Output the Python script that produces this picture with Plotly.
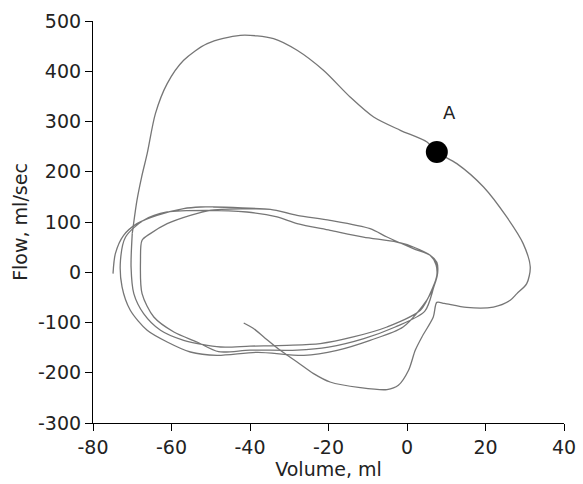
import plotly.graph_objects as go

# Tidal loops (one continuous recorded trace): Volume ml, Flow ml/sec
loop_volume = [
    -74.9, -74.3, -72.2, -68.8, -63.7, -56.9, -52.6, -49.3, -42.0, -34.8, -28.0, -19.6, -9.4, -5.1, 1.6, 5.9, 7.6, 7.8, 7.0, 5.1,
    -1.0, -9.4, -17.8, -26.3, -38.1, -48.4, -55.2, -61.1, -66.2, -70.5, -72.6, -73.0, -71.7, -67.1, -61.1,
    -50.9, -40.8, -33.1, -28.0, -19.6, -11.1, -2.6, 1.6, 5.9, 7.4, 7.6, 6.8, 4.5,
    -3.0, -11.0, -20.0, -28.0, -40.0, -48.0, -53.5, -59.4, -64.5, -67.5, -67.9, -67.5, -65.4, -61.1, -55.2, -50.1,
    -42.0, -34.8, -28.0, -19.6, -9.4, -5.1, 1.6, 5.9, 7.5, 7.6, 6.7, 3.4,
    -5.1, -13.7, -22.1, -30.6, -40.0, -47.5, -56.9, -62.8, -67.1, -69.6, -70.3, -70.0,
]
loop_flow = [
    -2.7, 37.1, 73.5, 96.8, 113.3, 126.7, 129.9, 129.9, 128.0, 125.3, 113.3, 103.4, 86.9, 70.1, 47.1, 33.7, 19.8, -2.0, -25.0, -55.0,
    -109.0, -135.4, -155.3, -165.3, -159.3, -165.3, -158.7, -138.8, -115.5, -75.7, -29.3, 23.8, 70.1, 103.4, 119.9,
    123.3, 119.9, 110.0, 96.8, 83.5, 70.1, 60.2, 50.2, 33.7, 15.0, -8.0, -30.0, -78.0,
    -109.0, -132.0, -149.0, -155.0, -155.0, -158.0, -138.8, -118.9, -89.1, -42.5, 23.8, 63.6, 76.9, 96.8, 113.3, 123.3,
    126.0, 125.3, 113.3, 103.4, 86.9, 70.1, 47.1, 33.7, 16.0, -6.0, -28.0, -75.7,
    -109.0, -128.8, -142.0, -145.4, -147.0, -148.8, -135.4, -115.5, -82.3, -42.5, 10.4, 76.9,
]

# Large maneuver leaving the last tidal loop
big_volume = [
    -70.0, -68.8, -67.6, -66.2, -64.1, -61.1, -56.9, -50.9, -42.5, -34.0, -28.0, -21.3, -14.5, -8.5, -1.7, 5.1, 7.6,
    12.7, 19.5, 25.4, 29.6, 31.4, 30.5, 28.0, 26.3, 22.0, 15.2, 9.5, 7.6,
    6.7, 3.8, 2.1, 0.4, -2.2, -5.1, -11.9, -19.6, -23.8, -28.0, -32.3, -36.5, -39.1, -41.6,
]
big_flow = [
    76.9, 143.2, 190.0, 236.1, 315.7, 375.4, 421.8, 455.0, 471.5, 465.0, 441.7, 401.9, 348.8, 308.9, 282.5, 259.2, 239.3,
    216.2, 169.7, 110.0, 57.0, 10.4, -22.6, -42.5, -55.8, -69.2, -70.0, -62.0, -60.0,
    -89.1, -128.8, -155.3, -195.1, -225.0, -233.5, -229.6, -218.4, -201.7, -178.6, -155.3, -128.8, -112.1, -101.0,
]

point_a = (7.6, 239.3)
label_a = "A"
x_ticks = [-80, -60, -40, -20, 0, 20, 40]
y_ticks = [-300, -200, -100, 0, 100, 200, 300, 400, 500]

FONT = "'DejaVu Sans', sans-serif"
LINE = "#767676"
TXT = "#222"

fig = go.Figure()
fig.add_trace(go.Scatter(x=loop_volume, y=loop_flow, mode="lines",
                         line=dict(color=LINE, width=1.3, shape="spline", smoothing=0.8),
                         hoverinfo="skip", showlegend=False))
fig.add_trace(go.Scatter(x=big_volume, y=big_flow, mode="lines",
                         line=dict(color=LINE, width=1.3, shape="spline", smoothing=0.8),
                         hoverinfo="skip", showlegend=False))
fig.add_trace(go.Scatter(x=[point_a[0]], y=[point_a[1]], mode="markers",
                         marker=dict(color="black", size=22), showlegend=False))
fig.add_annotation(x=10.8, y=318, text=label_a, showarrow=False,
                   font=dict(family=FONT, size=18, color=TXT))

axis_common = dict(showline=True, linecolor="black", linewidth=1.2, ticks="outside",
                   ticklen=7, tickwidth=1.2, tickcolor="black", showgrid=False, zeroline=False,
                   automargin=False,
                   tickfont=dict(family=FONT, size=19, color=TXT),
                   title_font=dict(family=FONT, size=19, color=TXT))

fig.update_layout(
    width=583, height=484,
    margin=dict(l=93, r=19, t=21, b=61),
    paper_bgcolor="white", plot_bgcolor="white",
    xaxis=dict(range=[-80, 40], tickvals=x_ticks, ticktext=[str(v) for v in x_ticks],
               title=dict(text="Volume, ml", standoff=2), **axis_common),
    yaxis=dict(range=[-300, 500], tickvals=y_ticks, ticktext=[str(v) for v in y_ticks],
               title=dict(text="Flow, ml/sec", standoff=5), **axis_common),
)

fig.write_html("out.html", config={"displayModeBar": False},
               post_script="document.body.style.margin='0';document.body.style.padding='0';")
